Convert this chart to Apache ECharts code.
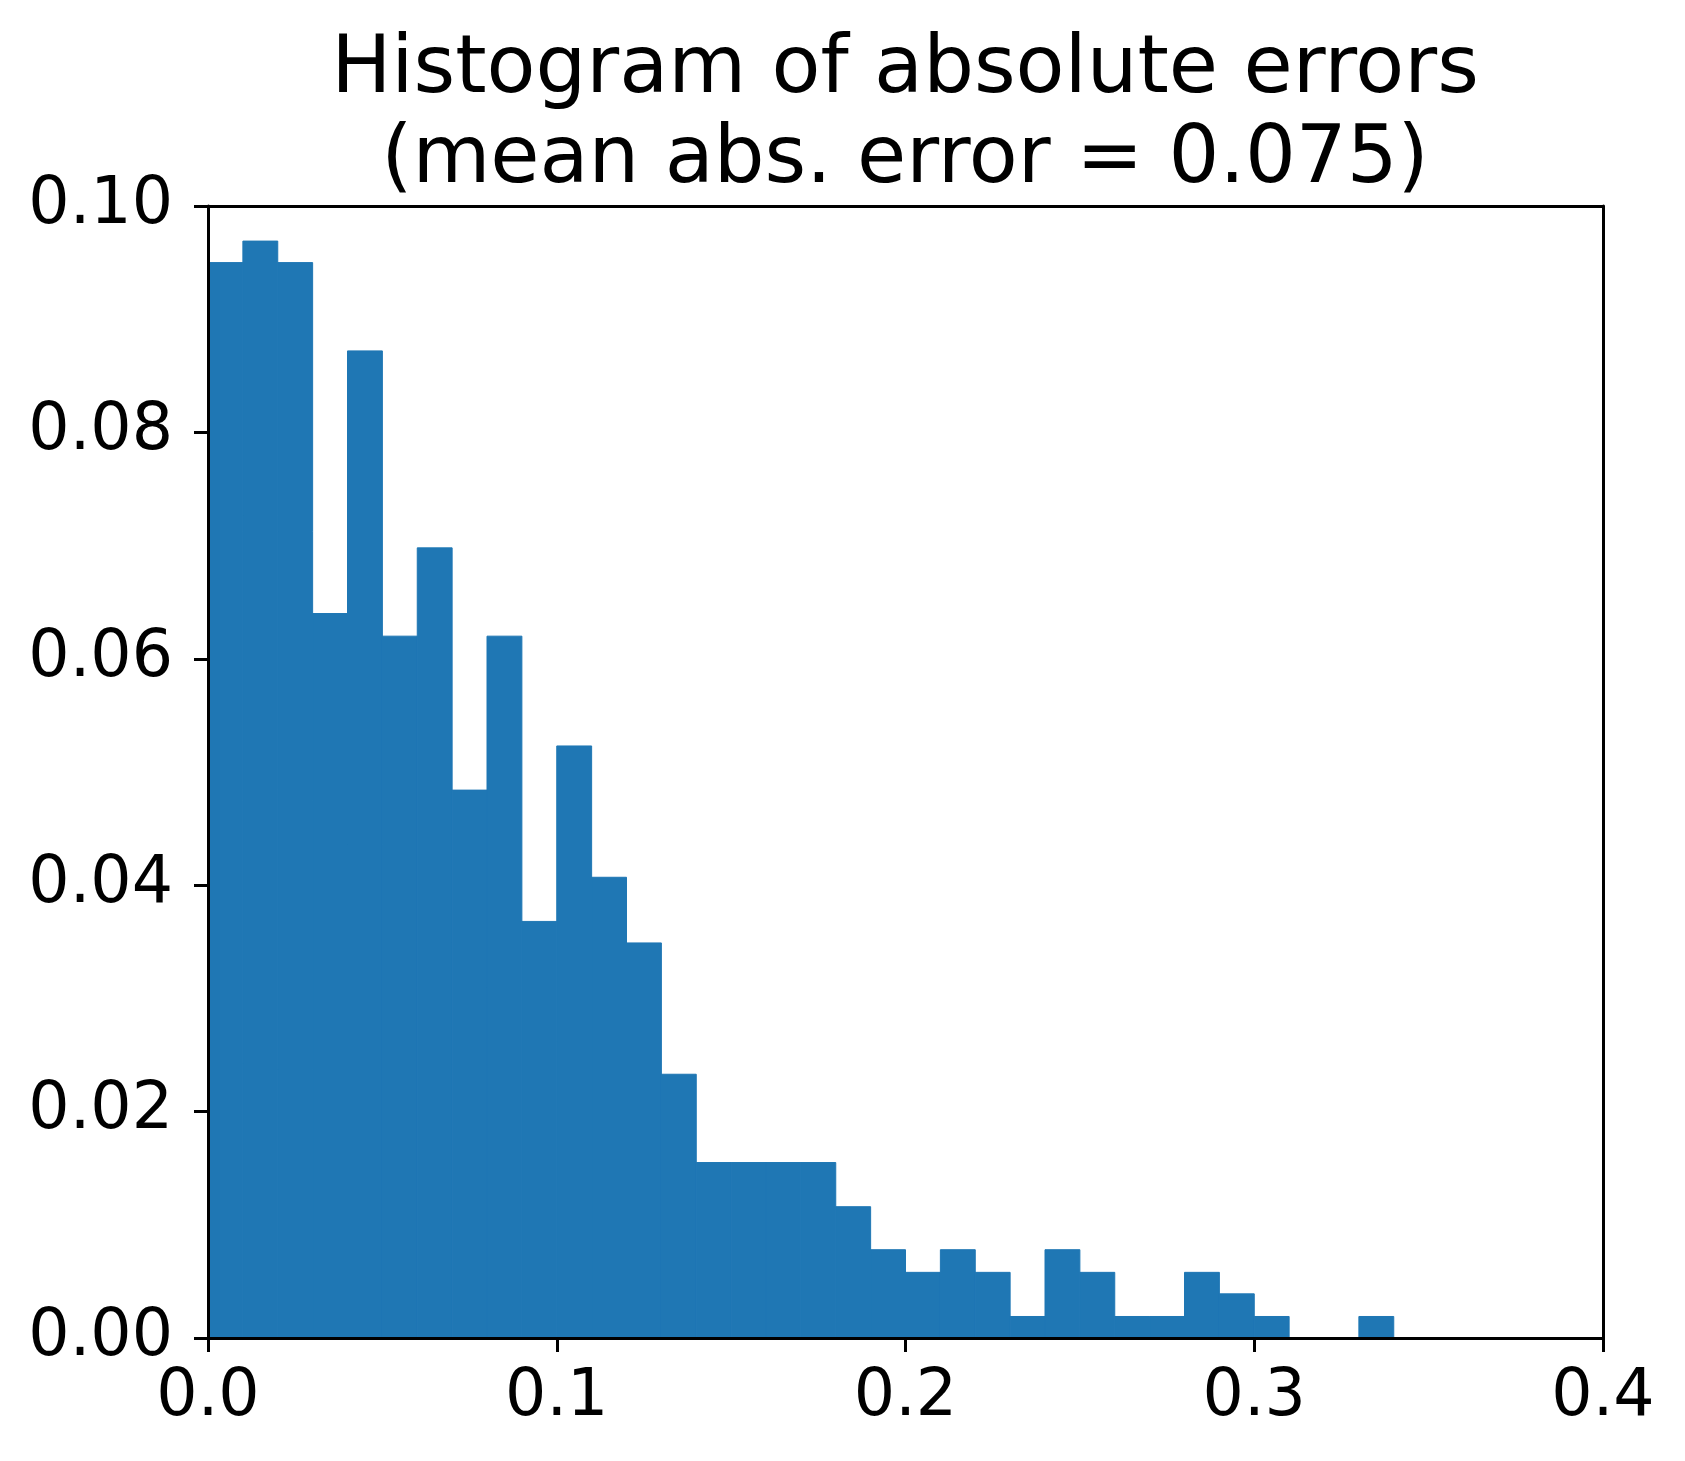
<!DOCTYPE html>
<html>
<head>
<meta charset="utf-8">
<style>html,body{margin:0;padding:0;background:#fff;}#chart{width:1685px;height:1461px;}</style>
<script src="https://cdn.jsdelivr.net/npm/echarts@6/dist/echarts.min.js"></script>
</head>
<body>
<div id="chart"></div>
<script>
// Histogram bin edges (absolute error)
var binEdges = [0.00,0.01,0.02,0.03,0.04,0.05,0.06,0.07,0.08,0.09,0.10,0.11,0.12,0.13,0.14,0.15,0.16,0.17,0.18,0.19,0.20,0.21,0.22,0.23,0.24,0.25,0.26,0.27,0.28,0.29,0.30,0.31,0.32,0.33,0.34];
// Bar heights (normalized frequency) for each bin
var binValues = [0.0950,0.0969,0.0950,0.0640,0.0872,0.0620,0.0698,0.0484,0.0620,0.0368,0.0523,0.0407,0.0349,0.0233,0.0155,0.0155,0.0155,0.0155,0.0116,0.0078,0.0058,0.0078,0.0058,0.0019,0.0078,0.0058,0.0019,0.0019,0.0058,0.0039,0.0019,0.0000,0.0000,0.0019];
var xTickLabels = ['0.0','0.1','0.2','0.3','0.4'];
var yTickLabels = ['0.00','0.02','0.04','0.06','0.08','0.10'];
var titleLines = ['Histogram of absolute errors','(mean abs. error = 0.075)'];

var histData = binValues.map(function(v, i){ return [binEdges[i], binEdges[i+1], v]; });

var FONT = 'DejaVu Sans';
var chart = echarts.init(document.getElementById('chart'), null, {renderer:'canvas'});
var axisLineStyle = {color:'#000', width:3};
var option = {
  animation: false,
  backgroundColor: '#fff',
  title: {
    text: titleLines.join('\n'),
    left: 905, top: 26, padding: 0,
    textAlign: 'center',
    textStyle: {fontFamily: FONT, fontSize: 80, fontWeight: 'normal', color: '#000', lineHeight: 90}
  },
  grid: {left: 208, top: 206, right: 82, bottom: 123, containLabel: false},
  xAxis: [{
    type: 'value', min: 0, max: 0.4, interval: 0.1, position: 'bottom', z: 10,
    axisLine: {show: true, onZero: false, lineStyle: axisLineStyle},
    axisTick: {show: true, inside: false, length: 14, lineStyle: axisLineStyle},
    splitLine: {show: false},
    axisLabel: {margin: 28, fontFamily: FONT, fontSize: 65, color: '#000',
      formatter: function(v){ return xTickLabels[Math.round(v*10)]; }}
  },{
    type: 'value', min: 0, max: 0.4, position: 'top', z: 10,
    axisLine: {show: true, onZero: false, lineStyle: axisLineStyle},
    axisTick: {show: false}, axisLabel: {show: false}, splitLine: {show: false}
  }],
  yAxis: [{
    type: 'value', min: 0, max: 0.1, interval: 0.02, position: 'left', z: 10,
    axisLine: {show: true, onZero: false, lineStyle: axisLineStyle},
    axisTick: {show: true, inside: false, length: 14, lineStyle: axisLineStyle},
    splitLine: {show: false},
    axisLabel: {margin: 35, fontFamily: FONT, fontSize: 65, color: '#000',
      formatter: function(v){ return yTickLabels[Math.round(v*50)]; }}
  },{
    type: 'value', min: 0, max: 0.1, position: 'right', z: 10,
    axisLine: {show: true, onZero: false, lineStyle: axisLineStyle},
    axisTick: {show: false}, axisLabel: {show: false}, splitLine: {show: false}
  }],
  series: [{
    type: 'custom',
    xAxisIndex: 0, yAxisIndex: 0,
    data: histData,
    encode: {x: [0, 1], y: 2},
    renderItem: function(params, api){
      var p0 = api.coord([api.value(0), api.value(2)]);
      var p1 = api.coord([api.value(1), 0]);
      return {
        type: 'rect',
        shape: {x: p0[0], y: p0[1], width: p1[0] - p0[0], height: p1[1] - p0[1]},
        style: {fill: '#1f77b4', stroke: '#1f77b4', lineWidth: 1}
      };
    }
  }]
};
chart.setOption(option);
</script>
</body>
</html>
